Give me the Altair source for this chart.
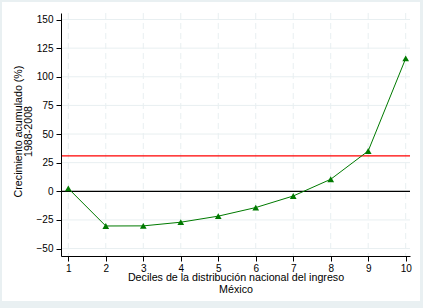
import altair as alt
import pandas as pd

deciles = [1, 2, 3, 4, 5, 6, 7, 8, 9, 10]
crecimiento = [2.5, -30.3, -30.2, -27.0, -21.7, -14.2, -4.1, 10.5, 35.2, 116.0]
promedio = 31.0
y_ticks = [-50, -25, 0, 25, 50, 75, 100, 125, 150]

W, H = 349, 243
FONT = "Liberation Sans"
GRID = "#e8eff1"

df = pd.DataFrame({"decil": deciles, "crec": crecimiento})
rules = pd.DataFrame({"y": [0, promedio], "c": ["cero", "promedio"]})
ygrid = pd.DataFrame({"y": y_ticks})
xgrid = pd.DataFrame({"x": deciles})

xscale = alt.Scale(domain=[0.805, 10.115], nice=False, zero=False)
yscale = alt.Scale(domain=[-56.5, 155.7], nice=False, zero=False)

xaxis = alt.Axis(
    values=deciles, format="d", grid=False, zindex=1,
    domainColor="black", tickColor="black", tickSize=5, labelFont=FONT, labelFontSize=10,
    labelColor="black", labelPadding=2,
    title=["Deciles de la distribución nacional del ingreso", "México"],
    titleFont=FONT, titleFontSize=10.7, titleFontWeight="normal", titleColor="black",
    titleLineHeight=12.5, titleBaseline="alphabetic", titleX=W / 2, titleY=24,
)
yaxis = alt.Axis(
    values=y_ticks, grid=False, zindex=1,
    domainColor="black", tickColor="black", tickSize=5, labelFont=FONT, labelFontSize=10,
    labelColor="black", labelPadding=3,
    title=["Crecimiento acumulado (%)", "1988-2008"],
    titleFont=FONT, titleFontSize=10.7, titleFontWeight="normal", titleColor="black",
    titleLineHeight=10, titleBaseline="alphabetic", titleAngle=270, titleX=-40, titleY=118,
)

bg = alt.Chart(df).mark_rect(color="white", clip=False).encode(
    x=alt.value(-59), x2=alt.value(W + 10), y=alt.value(-11), y2=alt.value(H + 45)
)

gy = alt.Chart(ygrid).mark_rule(color=GRID, strokeWidth=1).encode(
    y=alt.Y("y:Q", scale=yscale, axis=yaxis)
)
gx = alt.Chart(xgrid).mark_rule(color=GRID, strokeWidth=1, strokeDash=[6, 4]).encode(
    x=alt.X("x:Q", scale=xscale, axis=xaxis)
)

base = alt.Chart(df).encode(
    x=alt.X("decil:Q", scale=xscale, axis=xaxis),
    y=alt.Y("crec:Q", scale=yscale, axis=yaxis),
)
line = base.mark_line(color="#007a00", strokeWidth=1)
pts = base.mark_point(shape="triangle-up", filled=True, color="#007a00", size=45, opacity=1)

hr = alt.Chart(rules).mark_rule(strokeWidth=1.2).encode(
    y=alt.Y("y:Q", scale=yscale, axis=yaxis),
    color=alt.Color("c:N", scale=alt.Scale(domain=["cero", "promedio"], range=["black", "#ff0000"]), legend=None),
)

chart = alt.layer(bg, gy, gx, hr, line, pts).properties(
    width=W, height=H,
    background="#e9f0f2",
    padding={"left": 61, "top": 13, "right": 13, "bottom": 52},
    autosize=alt.AutoSizeParams(type="none"),
).configure_view(stroke=None)

chart.save("out.html", embed_options={"renderer": "svg", "actions": False})
